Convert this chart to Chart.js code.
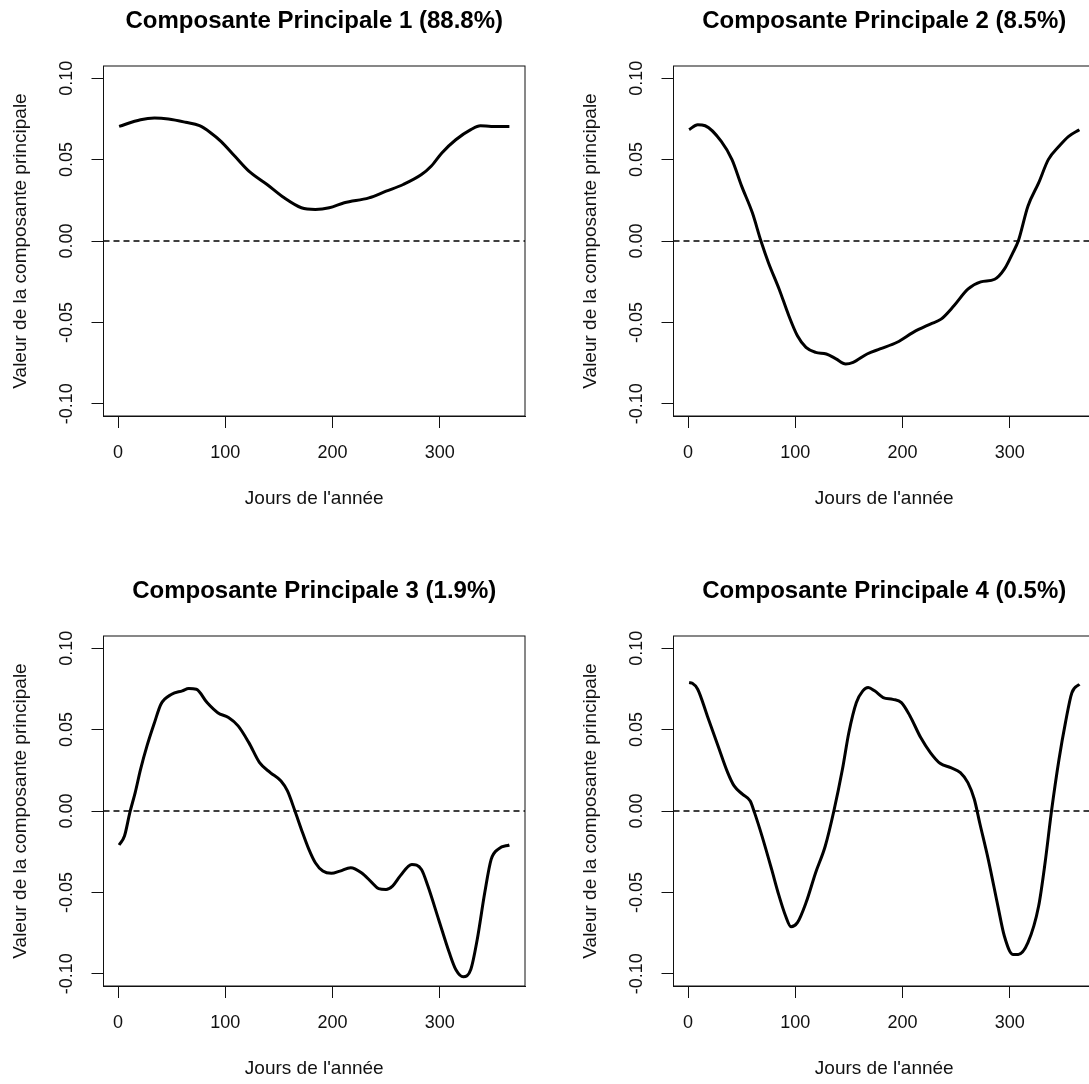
<!DOCTYPE html>
<html>
<head>
<meta charset="UTF-8" />
<title>Composantes principales</title>
<script src="https://cdn.jsdelivr.net/npm/chart.js"></script>
<style>
  html, body { margin: 0; padding: 0; background: #fff; }
  #page { position: relative; width: 1089px; height: 1084px; overflow: hidden; }
  .panel { position: absolute; width: 540px; height: 540px; }
</style>
</head>
<body>
<div id="page">
  <div class="panel" style="left:0px;top:0px"><canvas id="c1" width="540" height="540"></canvas></div>
  <div class="panel" style="left:570px;top:0px"><canvas id="c2" width="540" height="540"></canvas></div>
  <div class="panel" style="left:0px;top:570px"><canvas id="c3" width="540" height="540"></canvas></div>
  <div class="panel" style="left:570px;top:570px"><canvas id="c4" width="540" height="540"></canvas></div>
</div>
<script>
// valeurs (jour, valeur de la composante)
const days1 = [1, 21, 34, 47, 63, 76, 86, 96, 109, 122, 139, 155, 171, 184, 197, 211, 234, 250, 266, 283, 292, 302, 315, 329, 338, 348, 365];
const pc1 = [0.0704, 0.0745, 0.0755, 0.0749, 0.0729, 0.0708, 0.0667, 0.0612, 0.052, 0.0429, 0.0347, 0.0265, 0.0204, 0.0194, 0.0204, 0.0235, 0.0265, 0.0306, 0.0347, 0.0408, 0.0459, 0.0541, 0.0622, 0.0684, 0.0708, 0.0704, 0.0704];

const days2 = [1, 9, 16, 31, 41, 50, 60, 68, 75, 85, 94, 102, 110, 119, 129, 138, 147, 154, 167, 179, 195, 210, 226, 236, 248, 261, 273, 286, 295, 303, 308, 317, 327, 336, 346, 355, 365];
const pc2 = [0.0684, 0.0714, 0.0708, 0.0612, 0.050, 0.0337, 0.0173, 0.0, -0.0133, -0.0296, -0.0459, -0.0582, -0.0653, -0.0684, -0.0694, -0.0724, -0.0755, -0.0745, -0.0694, -0.0663, -0.0622, -0.0561, -0.051, -0.048, -0.0398, -0.0296, -0.0251, -0.0235, -0.0173, -0.0071, 0.0, 0.0214, 0.0357, 0.050, 0.0582, 0.0643, 0.0684];

const days3 = [1, 6, 11, 16, 21, 27, 34, 40, 50, 60, 66, 73, 83, 93, 103, 112, 122, 132, 142, 152, 158, 165, 171, 178, 184, 191, 199, 207, 217, 227, 237, 243, 250, 256, 263, 274, 283, 289, 299, 309, 315, 322, 329, 335, 342, 348, 355, 365];
const pc3 = [-0.0209, -0.0154, -0.001, 0.0113, 0.0256, 0.040, 0.0543, 0.0656, 0.0717, 0.0738, 0.0752, 0.0748, 0.0666, 0.0604, 0.0574, 0.0523, 0.042, 0.0297, 0.0236, 0.0184, 0.0123, 0.0, -0.0113, -0.0236, -0.0318, -0.0369, -0.0383, -0.0369, -0.0348, -0.0379, -0.0441, -0.0477, -0.0482, -0.0461, -0.040, -0.0328, -0.0359, -0.0461, -0.0666, -0.0871, -0.0973, -0.1018, -0.0973, -0.0789, -0.0502, -0.0297, -0.0232, -0.0209];

const days4 = [1, 4, 9, 18, 28, 37, 43, 51, 58, 62, 69, 78, 84, 91, 96, 102, 110, 119, 128, 136, 144, 150, 157, 163, 168, 174, 182, 191, 199, 207, 217, 226, 235, 245, 254, 261, 267, 272, 280, 289, 295, 303, 308, 317, 327, 333, 339, 346, 352, 358, 365];
const pc4 = [0.0789, 0.0785, 0.0748, 0.0584, 0.040, 0.0236, 0.0154, 0.0102, 0.0061, -0.001, -0.0154, -0.0359, -0.0502, -0.0645, -0.0711, -0.0686, -0.0564, -0.0379, -0.0215, 0.0, 0.0256, 0.0482, 0.0666, 0.0738, 0.0758, 0.0738, 0.0697, 0.0686, 0.0666, 0.0584, 0.0451, 0.0359, 0.0293, 0.0266, 0.0236, 0.0174, 0.0072, -0.0072, -0.0297, -0.0584, -0.0768, -0.0881, -0.0881, -0.0809, -0.0584, -0.0318, 0.0, 0.0318, 0.0543, 0.0727, 0.0779];

const titles = [
  'Composante Principale 1 (88.8%)',
  'Composante Principale 2 (8.5%)',
  'Composante Principale 3 (1.9%)',
  'Composante Principale 4 (0.5%)'
];
const xTitle = "Jours de l'année";
const yTitle = 'Valeur de la composante principale';
const xTicks = [0, 100, 200, 300];
const yTicks = [-0.10, -0.05, 0.00, 0.05, 0.10];
const xMin = -13.56, xMax = 379.56;
const yMin = -0.1075, yMax = 0.1075;

const FONT = '"Liberation Sans", Arial, sans-serif';
const INK = '#111';

// cadre complet + etiquettes de l'axe y tournees comme dans R
const cadre = {
  id: 'cadre',
  afterDraw(chart) {
    const { ctx, chartArea: a, scales: { y } } = chart;
    ctx.save();
    ctx.strokeStyle = INK;
    ctx.lineWidth = 1;
    ctx.strokeRect(a.left, a.top, a.right - a.left, a.bottom - a.top);
    ctx.fillStyle = INK;
    ctx.font = '18px ' + FONT;
    ctx.textAlign = 'center';
    ctx.textBaseline = 'middle';
    y.ticks.forEach(t => {
      const v = Math.abs(t.value) < 1e-9 ? 0 : t.value;
      ctx.save();
      ctx.translate(a.left - 36, y.getPixelForValue(t.value));
      ctx.rotate(-Math.PI / 2);
      ctx.fillText(v.toFixed(2), 0, 0);
      ctx.restore();
    });
    ctx.restore();
  }
};

function makeChart(id, days, values, title) {
  const pts = days.map((d, i) => ({ x: d, y: values[i] }));
  new Chart(document.getElementById(id), {
    type: 'line',
    data: {
      datasets: [
        {
          data: pts,
          borderColor: '#000',
          borderWidth: 3,
          pointRadius: 0,
          cubicInterpolationMode: 'monotone',
          fill: false
        },
        {
          data: [{ x: xMin, y: 0 }, { x: xMax, y: 0 }],
          borderColor: '#000',
          borderWidth: 1.3,
          borderDash: [6, 4],
          pointRadius: 0,
          fill: false
        }
      ]
    },
    options: {
      responsive: false,
      animation: false,
      devicePixelRatio: 1,
      layout: { padding: { left: 0, right: 15, top: 0, bottom: 0 } },
      plugins: {
        legend: { display: false },
        tooltip: { enabled: false },
        title: {
          display: true,
          text: title,
          fullSize: false,
          color: '#000',
          font: { family: FONT, size: 24, weight: 'bold' },
          padding: { top: 6.6, bottom: 30.6 }
        }
      },
      scales: {
        x: {
          type: 'linear',
          min: xMin,
          max: xMax,
          afterBuildTicks(s) { s.ticks = xTicks.map(v => ({ value: v })); },
          ticks: {
            maxRotation: 0,
            autoSkip: false,
            color: INK,
            padding: 14,
            font: { family: FONT, size: 18 }
          },
          grid: { drawOnChartArea: false, drawTicks: true, tickLength: 12, color: INK },
          border: { display: true, color: INK, width: 1 },
          title: {
            display: true,
            text: xTitle,
            color: INK,
            font: { family: FONT, size: 19 },
            padding: { top: 0, bottom: 29.6 }
          },
          afterFit(s) { s.height = 124; }
        },
        y: {
          min: yMin,
          max: yMax,
          afterBuildTicks(s) { s.ticks = yTicks.map(v => ({ value: v })); },
          ticks: { display: false },
          grid: { drawOnChartArea: false, drawTicks: true, tickLength: 12, color: INK },
          border: { display: true, color: INK, width: 1 },
          title: {
            display: true,
            text: yTitle,
            color: INK,
            font: { family: FONT, size: 19 },
            padding: { top: 9.6, bottom: 0 }
          },
          afterFit(s) { s.width = 103.5; }
        }
      }
    },
    plugins: [cadre]
  });
}

makeChart('c1', days1, pc1, titles[0]);
makeChart('c2', days2, pc2, titles[1]);
makeChart('c3', days3, pc3, titles[2]);
makeChart('c4', days4, pc4, titles[3]);
</script>
</body>
</html>
